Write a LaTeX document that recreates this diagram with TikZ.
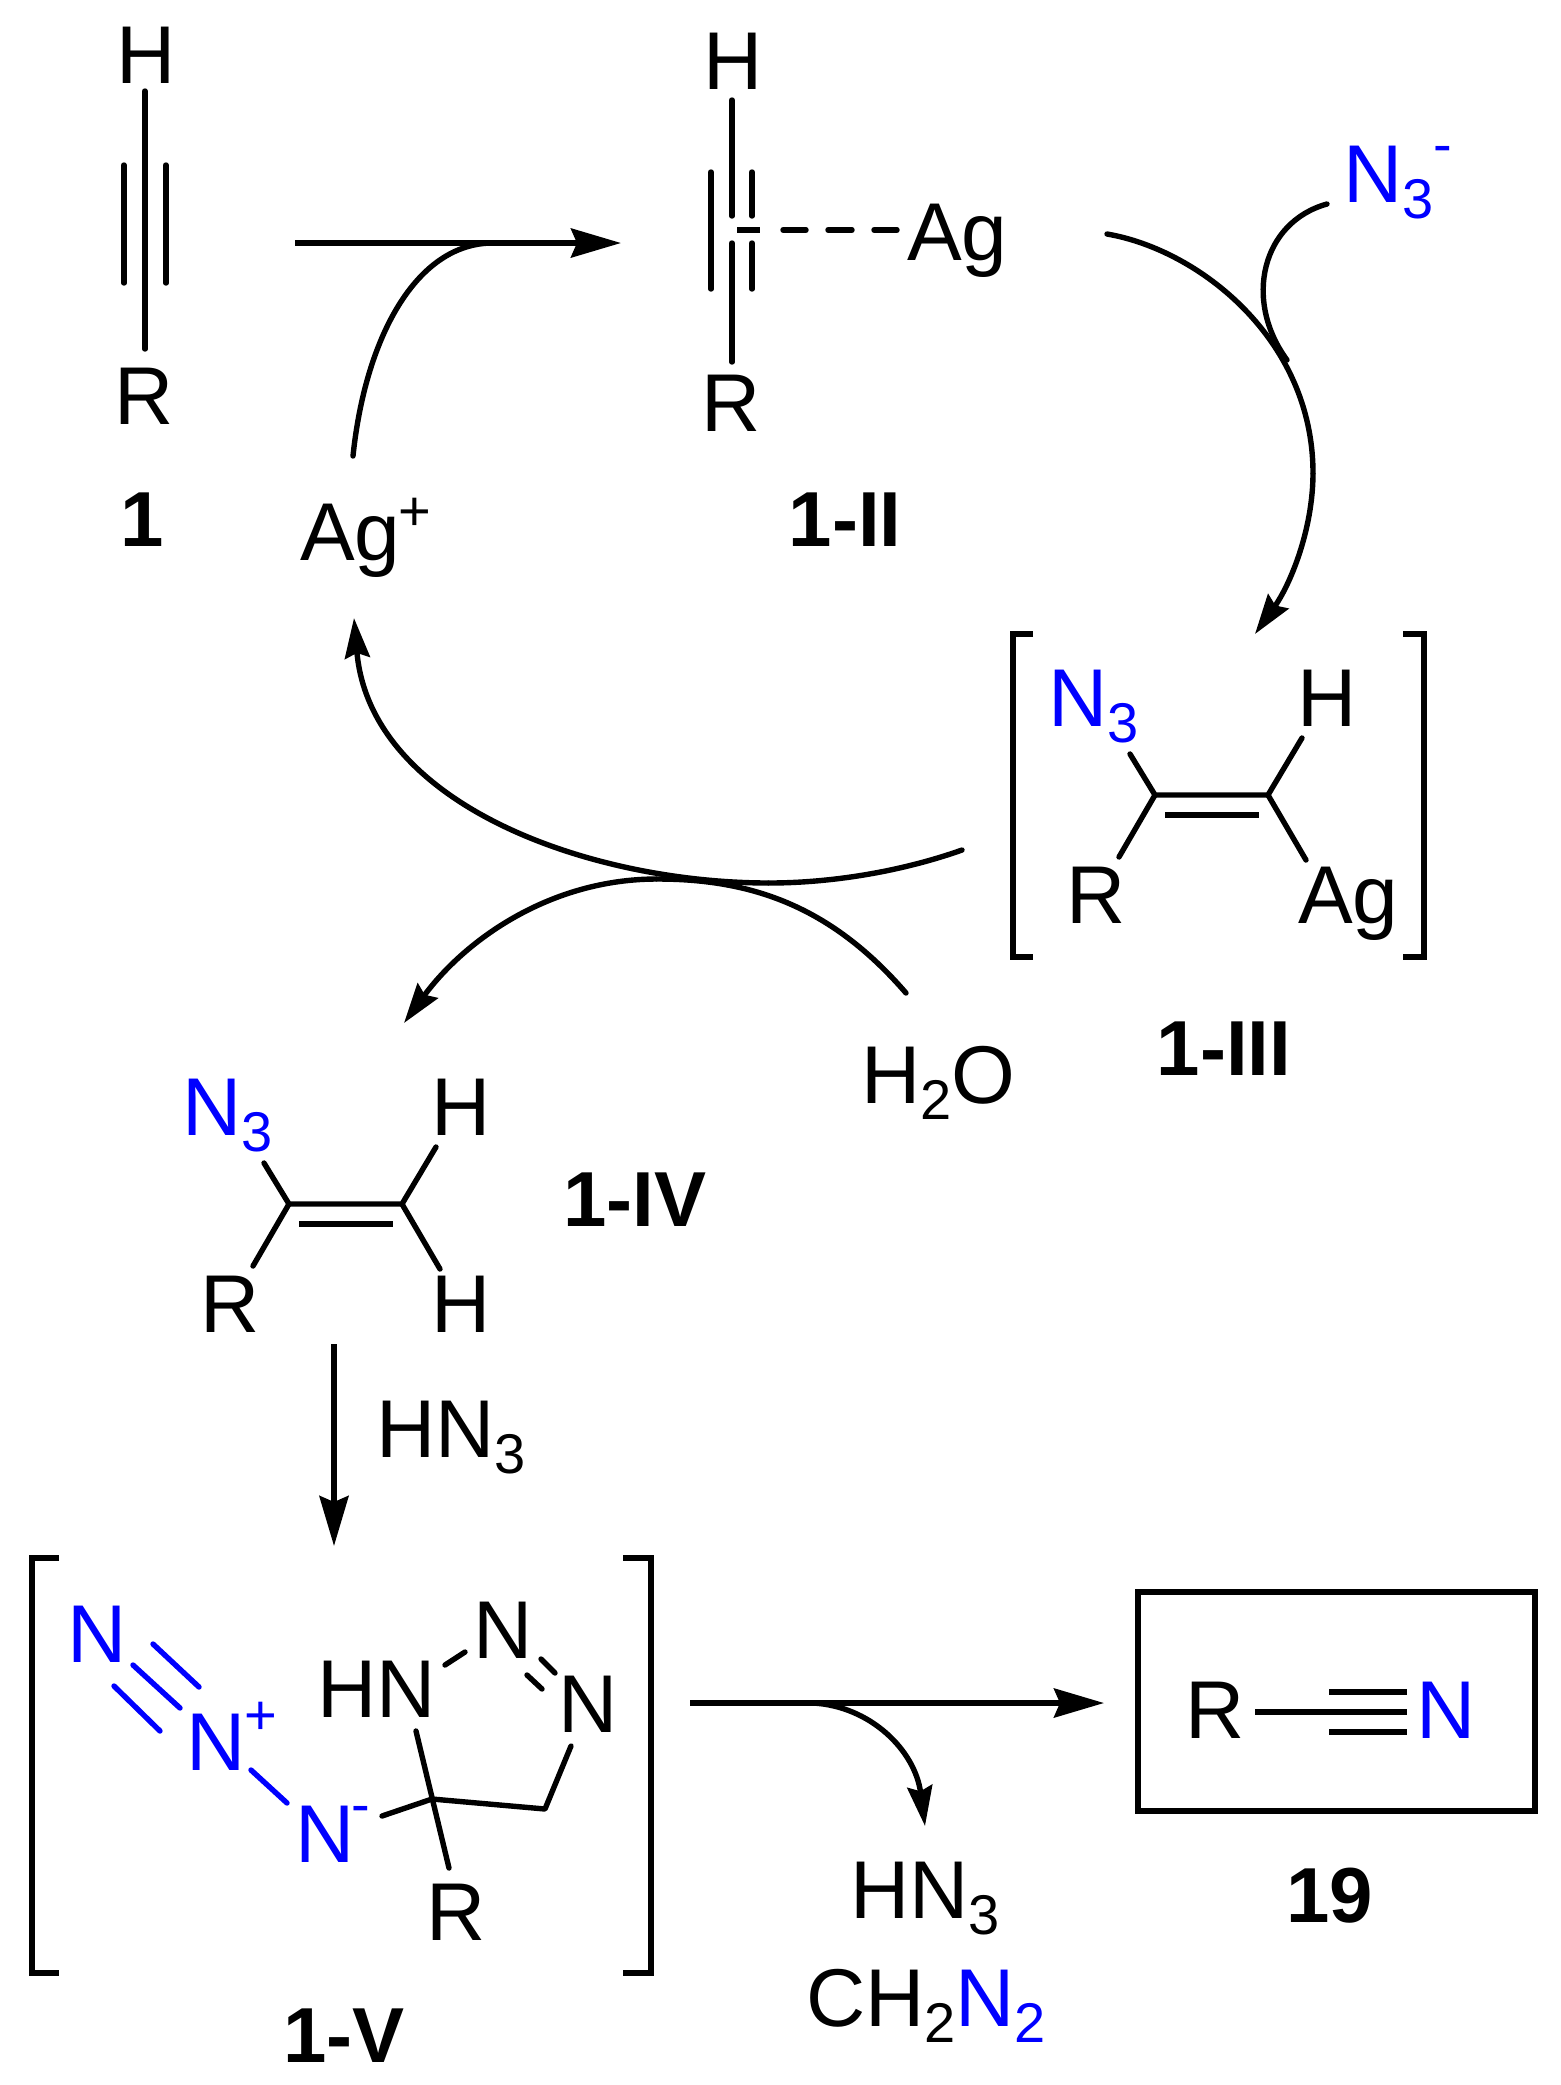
\documentclass[tikz,border=0pt]{standalone}
\usepackage{fontspec}
\setmainfont{Liberation Sans}
\usetikzlibrary{arrows.meta}
\definecolor{azide}{RGB}{0,0,255}
\newcommand{\subs}[1]{\raisebox{-8pt}{\fontsize{28}{28}\selectfont #1}}
\tikzset{
  atom/.style={anchor=base west,inner sep=0pt,outer sep=0pt,font=\fontsize{41}{41}\selectfont},
  tag/.style={anchor=base,inner sep=0pt,outer sep=0pt,font=\fontsize{39}{39}\selectfont\bfseries},
  charge/.style={anchor=center,inner sep=0pt,outer sep=0pt,font=\fontsize{28}{28}\selectfont},
  bond/.style={line width=2.7pt,line cap=round,line join=round},
  bluebond/.style={bond,draw=azide},
  bracket/.style={line width=2.7pt,line cap=butt,line join=miter},
  bigarrow/.style={line width=2.7pt,-{Stealth[length=25pt,width=14.5pt,inset=3pt]}},
  arrow/.style={line width=2.7pt,-{Stealth[length=20pt,width=12.5pt,inset=2.5pt]}},
  plain/.style={line width=2.7pt,line cap=round},
  frame/.style={draw,line width=2.7pt}
}
\begin{document}
\begin{tikzpicture}[x=0.5pt,y=-0.5pt]
\useasboundingbox (0,0) rectangle (1560,2085);

% ---------- 1
\node[atom] (a1H) at (116,83) {H};
\node[atom] (a1R) at (114,424) {R};
\node[tag] (t1) at (142,546) {1};
\coordinate (b1a) at (145,91); \coordinate (b1b) at (145,349);
\coordinate (b1c) at (124,165); \coordinate (b1d) at (124,283);
\coordinate (b1e) at (166,165); \coordinate (b1f) at (166,283);
\draw[bond] (b1a) -- (b1b);
\draw[bond] (b1c) -- (b1d);
\draw[bond] (b1e) -- (b1f);

% ---------- Ag+
\node[atom] (agp) at (300,560) {Ag};
\node[charge] (agpc) at (415,514) {+};

% ---------- top arrow
\coordinate (ta) at (295,243); \coordinate (tb) at (621,243);
\coordinate (tc) at (353,456); \coordinate (td) at (493,243);
\draw[bigarrow] (ta) -- (tb);
\draw[plain] (tc) .. controls (365,340) and (415,243) .. (td);

% ---------- 1-II
\node[atom] (b2H) at (703,89) {H};
\node[atom] (b2R) at (701,431) {R};
\node[atom] (b2Ag) at (907,260) {Ag};
\node[tag] (t2) at (845,546) {1-II};
\coordinate (c1) at (732,100); \coordinate (c2) at (732,216);
\coordinate (c3) at (732,243); \coordinate (c4) at (732,362);
\coordinate (c5) at (711,172); \coordinate (c6) at (711,289);
\coordinate (c7) at (752,172); \coordinate (c8) at (752,216);
\coordinate (c9) at (752,243); \coordinate (c10) at (752,289);
\coordinate (c11) at (737,230); \coordinate (c12) at (760,230);
\coordinate (c13) at (783,230); \coordinate (c14) at (806,230);
\coordinate (c15) at (828,230); \coordinate (c16) at (852,230);
\coordinate (c17) at (874,230); \coordinate (c18) at (897,230);
\draw[bond] (c1) -- (c2);
\draw[bond] (c3) -- (c4);
\draw[bond] (c5) -- (c6);
\draw[bond] (c7) -- (c8);
\draw[bond] (c9) -- (c10);
\draw[bond,line cap=butt] (c11) -- (c12);
\draw[bond] (c13) -- (c14);
\draw[bond] (c15) -- (c16);
\draw[bond] (c17) -- (c18);

% ---------- N3- and big curve
\node[atom,text=azide] (n3m) at (1343,202) {N\subs{3}};
\node[charge,text=azide] (n3mc) at (1443,155) {-};
\coordinate (d1) at (1107,234); \coordinate (d2) at (1313,473); \coordinate (d3) at (1255,634);
\coordinate (d4) at (1327,204); \coordinate (d5) at (1287,360);
\draw[plain] (d1) .. controls (1200,250) and (1313,340) .. (d2);
\draw[arrow] (d2) .. controls (1313,530) and (1290,585) .. (d3);
\draw[plain] (d4) .. controls (1262,222) and (1243,300) .. (d5);

% ---------- 1-III
\node[atom,text=azide] (e1) at (1048,726) {N\subs{3}};
\node[atom] (e2) at (1297,726) {H};
\node[atom] (e3) at (1066,923) {R};
\node[atom] (e4) at (1298,923) {Ag};
\node[tag] (t3) at (1224,1075) {1-III};
\coordinate (f1) at (1155,795); \coordinate (f2) at (1268,795);
\coordinate (f3) at (1130,754); \coordinate (f4) at (1302,738);
\coordinate (f5) at (1119,857); \coordinate (f6) at (1306,860);
\coordinate (f7) at (1165,815); \coordinate (f8) at (1259,815);
\draw[bond] (f3) -- (f1) -- (f2) -- (f4);
\draw[bond] (f5) -- (f1);
\draw[bond] (f2) -- (f6);
\draw[bond,line cap=butt] (f7) -- (f8);
\coordinate (g1) at (1033,634); \coordinate (g2) at (1013,634);
\coordinate (g3) at (1013,957); \coordinate (g4) at (1033,957);
\coordinate (g5) at (1403,634); \coordinate (g6) at (1424,634);
\coordinate (g7) at (1424,957); \coordinate (g8) at (1403,957);
\draw[bracket] (g1) -- (g2) -- (g3) -- (g4);
\draw[bracket] (g5) -- (g6) -- (g7) -- (g8);

% ---------- crossing curves
\coordinate (h1) at (962,850); \coordinate (h0) at (769,883); \coordinate (h2) at (354,618);
\coordinate (h3) at (906,993); \coordinate (h4) at (657,879); \coordinate (h5) at (404,1023);
\draw[plain] (h1) .. controls (900,872) and (830,883) .. (h0);
\draw[arrow] (h0) .. controls (590,883) and (370,805) .. (h2);
\draw[plain] (h3) .. controls (830,905) and (750,879) .. (h4);
\draw[arrow] (h4) .. controls (550,879) and (465,940) .. (h5);

% ---------- H2O
\node[atom] (w) at (861,1103) {H\subs{2}O};

% ---------- 1-IV
\node[atom,text=azide] (i1) at (182,1135) {N\subs{3}};
\node[atom] (i2) at (431,1135) {H};
\node[atom] (i3) at (200,1332) {R};
\node[atom] (i4) at (431,1332) {H};
\node[tag] (t4) at (635,1226) {1-IV};
\coordinate (j1) at (289,1204); \coordinate (j2) at (402,1204);
\coordinate (j3) at (264,1163); \coordinate (j4) at (436,1147);
\coordinate (j5) at (253,1266); \coordinate (j6) at (440,1269);
\coordinate (j7) at (299,1224); \coordinate (j8) at (393,1224);
\draw[bond] (j3) -- (j1) -- (j2) -- (j4);
\draw[bond] (j5) -- (j1);
\draw[bond] (j2) -- (j6);
\draw[bond,line cap=butt] (j7) -- (j8);

% ---------- HN3 arrow
\coordinate (k1) at (334,1344); \coordinate (k2) at (334,1546);
\draw[bigarrow] (k1) -- (k2);
\node[atom] (k3) at (376,1457) {HN\subs{3}};

% ---------- 1-V
\node[atom,text=azide] (m1) at (67,1662) {N};
\node[atom,text=azide] (m2) at (186,1770) {N};
\node[charge,text=azide] (m2c) at (261,1718) {+};
\node[atom,text=azide] (m3) at (295,1862) {N};
\node[charge,text=azide] (m3c) at (361,1815) {-};
\node[atom] (m4) at (317,1717) {HN};
\node[atom] (m5) at (473,1658) {N};
\node[atom] (m6) at (558,1732) {N};
\node[atom] (m7) at (426,1940) {R};
\node[tag] (t5) at (344,2062) {1-V};
\coordinate (n1) at (153,1644); \coordinate (n2) at (199,1687);
\coordinate (n3) at (133,1665); \coordinate (n4) at (180,1708);
\coordinate (n5) at (114,1686); \coordinate (n6) at (160,1731);
\coordinate (n7) at (251,1770); \coordinate (n8) at (287,1803);
\draw[bluebond] (n1) -- (n2);
\draw[bluebond] (n3) -- (n4);
\draw[bluebond] (n5) -- (n6);
\draw[bluebond] (n7) -- (n8);
\coordinate (p1) at (382,1816); \coordinate (p2) at (432,1799);
\coordinate (p3) at (416,1731); \coordinate (p4) at (449,1868);
\coordinate (p5) at (545,1809); \coordinate (p6) at (571,1746);
\coordinate (p7) at (445,1665); \coordinate (p8) at (465,1652);
\coordinate (p9) at (527,1675); \coordinate (p10) at (542,1689);
\coordinate (p11) at (541,1659); \coordinate (p12) at (555,1673);
\draw[bond] (p1) -- (p2) -- (p5) -- (p6);
\draw[bond] (p3) -- (p4);
\draw[bond] (p7) -- (p8);
\draw[bond] (p9) -- (p10);
\draw[bond] (p11) -- (p12);
\coordinate (q1) at (59,1558); \coordinate (q2) at (32,1558);
\coordinate (q3) at (32,1973); \coordinate (q4) at (59,1973);
\coordinate (q5) at (623,1558); \coordinate (q6) at (651,1558);
\coordinate (q7) at (651,1973); \coordinate (q8) at (623,1973);
\draw[bracket] (q1) -- (q2) -- (q3) -- (q4);
\draw[bracket] (q5) -- (q6) -- (q7) -- (q8);

% ---------- bottom arrow
\coordinate (r1) at (690,1703); \coordinate (r2) at (1104,1703);
\coordinate (r3) at (813,1703); \coordinate (r4) at (925,1826);
\draw[bigarrow] (r1) -- (r2);
\draw[arrow] (r3) .. controls (870,1706) and (915,1750) .. (r4);
\node[atom] (r5) at (850,1918) {HN\subs{3}};
\node[atom] (r6) at (806,2026) {CH\subs{2}\textcolor{azide}{N\subs{2}}};

% ---------- 19 box
\coordinate (s1) at (1138,1592); \coordinate (s2) at (1535,1811);
\draw[frame] (s1) rectangle (s2);
\node[atom] (s3) at (1185,1738) {R};
\node[atom,text=azide] (s4) at (1416,1738) {N};
\node[tag] (t6) at (1330,1922) {19};
\coordinate (u1) at (1255,1712); \coordinate (u2) at (1407,1712);
\coordinate (u3) at (1329,1692); \coordinate (u4) at (1407,1692);
\coordinate (u5) at (1329,1732); \coordinate (u6) at (1407,1732);
\draw[bond,line cap=butt] (u1) -- (u2);
\draw[bond,line cap=butt] (u3) -- (u4);
\draw[bond,line cap=butt] (u5) -- (u6);
\end{tikzpicture}
\end{document}
